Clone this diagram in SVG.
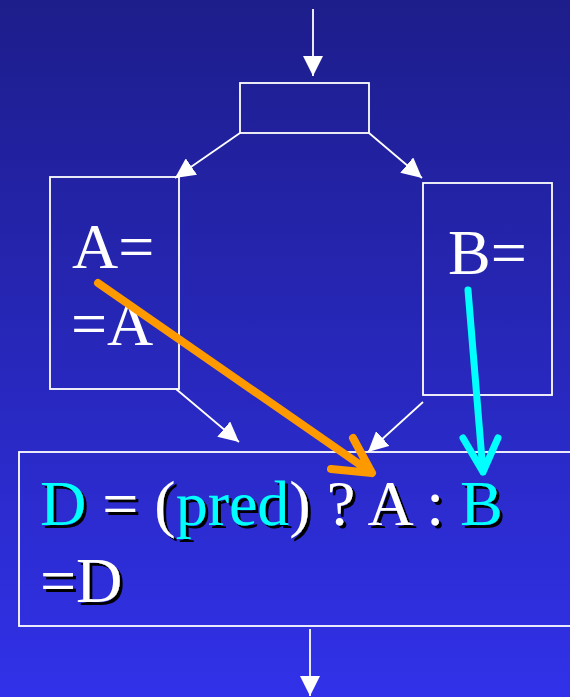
<svg xmlns="http://www.w3.org/2000/svg" width="570" height="697" viewBox="0 0 570 697">
  <defs>
    <linearGradient id="bg" x1="0" y1="0" x2="0" y2="1">
      <stop offset="0" stop-color="#1d1d8b"/>
      <stop offset="1" stop-color="#3131e9"/>
    </linearGradient>
    <filter id="shadow" x="-5%" y="-20%" width="115%" height="150%">
      <feOffset in="SourceAlpha" dx="2.5" dy="2.5" result="off"/>
      <feFlood flood-color="#000000" result="blk"/>
      <feComposite in="blk" in2="off" operator="in" result="sh"/>
      <feMerge>
        <feMergeNode in="sh"/>
        <feMergeNode in="SourceGraphic"/>
      </feMerge>
    </filter>
    <marker id="ah" viewBox="0 0 20 20" refX="20" refY="10" markerWidth="20" markerHeight="20" markerUnits="userSpaceOnUse" orient="auto">
      <path d="M0,0 L20,10 L0,20 z" fill="#ffffff"/>
    </marker>
    <style>
      .box { fill: none; stroke: #ffffff; stroke-width: 1.8; }
      .conn { fill: none; stroke: #ffffff; stroke-width: 1.8; marker-end: url(#ah); }
      .t { font-family: "Liberation Serif", "Times New Roman", serif; font-size: 64px; fill: #ffffff; }
      .shd { filter: url(#shadow); }
      .cy { fill: #00ffff; }
      .hl { fill: none; stroke-linecap: round; stroke-linejoin: round; }
    </style>
  </defs>
  <rect x="0" y="0" width="570" height="697" fill="url(#bg)"/>

  <g id="node-top">
    <rect class="box" x="240" y="83" width="129" height="50"/>
  </g>

  <g id="node-A">
    <rect class="box" x="50" y="177" width="129" height="212"/>
    <text class="t" x="72" y="268">A=</text>
    <text class="t" x="71" y="345">=A</text>
  </g>

  <g id="node-B">
    <rect class="box" x="423" y="183" width="129" height="212"/>
    <text class="t" x="448" y="274">B=</text>
  </g>

  <g id="node-D">
    <rect class="box" x="19" y="452" width="570" height="174"/>
    <text class="t shd" x="40" y="525"><tspan class="cy">D</tspan> = (<tspan class="cy">pred</tspan>) ? A : <tspan class="cy">B</tspan></text>
    <text class="t shd" x="40" y="601.5">=D</text>
  </g>

  <g id="connectors">
    <line class="conn" x1="313" y1="9" x2="313" y2="76"/>
    <line class="conn" x1="240" y1="133" x2="175" y2="178"/>
    <line class="conn" x1="369" y1="133" x2="422" y2="178"/>
    <line class="conn" x1="176" y1="389" x2="239" y2="442"/>
    <line class="conn" x1="423" y1="402" x2="368" y2="452"/>
    <line class="conn" x1="310" y1="629" x2="310" y2="696"/>
  </g>

  <g id="highlight-arrows">
    <path class="hl" stroke="#ff9900" stroke-width="8" d="M98,283 L372,473 M353,438 L372,473 L331,469"/>
    <path class="hl" stroke="#00ffff" stroke-width="7" d="M468,290 L483,472 M463,438 L483,472 L498,438"/>
  </g>
</svg>
